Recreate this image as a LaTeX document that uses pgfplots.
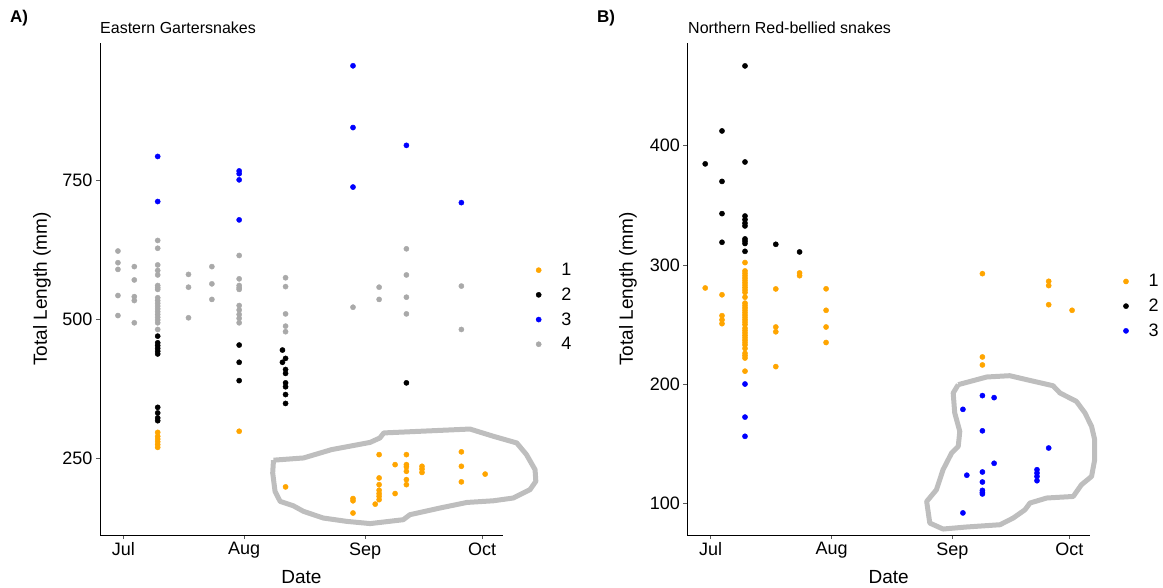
\documentclass[border=0pt]{standalone}
\usepackage{pgfplots}
\pgfplotsset{compat=1.18}
\usepackage{fontspec}
\setmainfont{Liberation Sans}
\definecolor{cOr}{HTML}{FFA500}
\definecolor{cBl}{HTML}{0000FF}
\definecolor{cGr}{HTML}{A9A9A9}
\definecolor{cHull}{HTML}{BEBEBE}
\begin{document}
\begin{tikzpicture}
\useasboundingbox (0,0) rectangle (1163bp,588bp);
\pgfplotsset{
 snake/.style={
  scale only axis, width=402.7bp, height=492bp,
  axis lines*=left, axis line style={-, black, line width=0.8bp},
  enlargelimits=false,
  xmin=-6, xmax=97.3,
  xtick={0,31,62,92}, xticklabels={Jul,Aug,Sep,Oct},
  tick align=outside, major tick length=4bp,
  tick style={color=black!65, line width=0.8bp},
  ticklabel style={font=\fontsize{18bp}{20bp}\selectfont},
  /pgf/number format/assume math mode=true,
  clip=false,
  legend cell align=left,
  legend style={draw=none, fill=none, font=\fontsize{18bp}{20bp}\selectfont, anchor=west,
    row sep=6.7bp, /tikz/every odd column/.append style={column sep=18bp}},
 },
 pt/.style={only marks, mark=*, mark size=2.6bp},
 hull/.style={forget plot, no marks, line width=5bp, color=cHull, line join=round},
}
% ---------------- Panel A ----------------
\begin{axis}[snake, at={(100bp,53bp)}, anchor=south west,
  ymin=112.5, ymax=997, ytick={250,500,750},
  legend style={at={(1.075,0.463)}}]
\addplot[hull] coordinates {(38.5,247)(46.2,251)(53.4,266)(63.3,279)(65.8,287)(66.8,296)(88.9,303)(94.9,290)(100.9,278)(103.4,257)(105.6,230)(105.8,209)(104.3,194)(100,179)(94.9,174)(88.1,171)(81.2,161)(73.5,149)(71.8,140)(63.3,133)(57.3,137)(51.3,143)(46.2,155)(43.6,165)(40.2,173)(38.9,191)(38.3,224)(38.5,247)};
\addplot[pt, color=cOr] coordinates {
(8.8,297)(8.8,290)(8.8,285)(8.8,280)(8.8,275)(8.8,270)
(29.7,299)(41.6,199)
(58.9,178)(58.9,174)(58.9,152)(64.6,168)
(65.6,257)(65.6,215)(65.6,203)(65.6,193)(65.6,187)(65.6,182)(65.6,176)
(69.7,239)(69.7,187)
(72.6,257)(72.6,239)(72.6,235)(72.6,227)(72.6,212)(72.6,203)
(76.6,236)(76.6,231)(76.6,225)
(86.7,262)(86.7,236)(86.7,208)(92.8,222)};
\addlegendentry{1}
\addplot[pt, color=black] coordinates {
(8.8,470)(8.8,458)(8.8,453)(8.8,448)(8.8,443)(8.8,438)
(8.8,342)(8.8,332)(8.8,323)(8.8,318)
(29.7,454)(29.7,423)(29.7,390)
(40.8,445)(40.8,423)(41.6,430)(41.6,410)(41.6,403)(41.6,386)(41.6,379)(41.6,365)(41.6,349)
(72.6,386)};
\addlegendentry{2}
\addplot[pt, color=cBl] coordinates {
(8.8,793)(8.8,712)
(29.7,767)(29.7,762)(29.7,751)(29.7,679)
(58.9,956)(58.9,845)(58.9,738)
(72.6,813)(86.7,710)};
\addlegendentry{3}
\addplot[pt, color=cGr] coordinates {
(-1.4,623)(-1.4,602)(-1.4,590)(-1.4,543)(-1.4,507)
(2.8,595)(2.8,571)(2.8,541)(2.8,534)(2.8,494)
(8.8,642)(8.8,628)(8.8,598)(8.8,588)(8.8,580)(8.8,561)(8.8,557)(8.8,554)(8.8,539)(8.8,534)(8.8,529)(8.8,524)(8.8,519)(8.8,514)(8.8,509)(8.8,504)(8.8,499)(8.8,494)(8.8,482)
(16.7,581)(16.7,558)(16.7,503)
(22.7,595)(22.7,564)(22.7,536)
(29.7,615)(29.7,573)(29.7,561)(29.7,557)(29.7,554)(29.7,525)(29.7,517)(29.7,509)(29.7,502)(29.7,494)
(41.6,575)(41.6,559)(41.6,510)(41.6,488)(41.6,478)
(58.9,522)
(65.6,558)(65.6,536)
(72.6,627)(72.6,580)(72.6,540)(72.6,510)
(86.7,560)(86.7,482)};
\addlegendentry{4}
\end{axis}
% ---------------- Panel B ----------------
\begin{axis}[snake, at={(687.3bp,53bp)}, anchor=south west,
  ymin=73.7, ymax=486, ytick={100,200,300,400},
  legend style={at={(1.075,0.465)}}]
\addplot[hull] coordinates {(63.5,199.7)(70.8,206.1)(76.7,207.2)(81.0,203.9)(87.8,198.8)(89.6,192.7)(93.8,185.7)(96.0,176)(97.7,164.7)(98.5,153.6)(98.5,136.8)(97.7,122.8)(95.1,115.8)(93.0,106)(86.2,104.7)(81.9,100.5)(80.6,94.8)(77.6,87.9)(74.2,82.3)(65.6,80.4)(59.6,78.7)(56.2,83.7)(55.4,101.8)(57.9,111.6)(59.6,128.4)(61.8,142.4)(63.5,148)(63.9,160.5)(62.6,176)(62.2,192.7)(63.5,199.7)};
\addplot[pt, color=cOr] coordinates {
(-1.4,280.7)
(2.9,275)(2.9,257.5)(2.9,254)(2.9,250.8)
(8.8,302)(8.8,295)(8.8,293)(8.8,291)(8.8,289)(8.8,287)(8.8,285)(8.8,283)(8.8,281)(8.8,279)(8.8,277)(8.8,273)(8.8,268)(8.8,266)(8.8,264)(8.8,262)(8.8,260)(8.8,258)(8.8,256)(8.8,254)(8.8,252)(8.8,250)(8.8,247)(8.8,245)(8.8,243)(8.8,241)(8.8,239)(8.8,237)(8.8,235)(8.8,233)(8.8,230)(8.8,226)(8.8,224)(8.8,222)(8.8,211)
(16.7,279.9)(16.7,248)(16.7,244)(16.7,214.8)
(22.8,293.3)(22.8,291)
(29.6,280)(29.6,262)(29.6,248)(29.6,235)
(69.7,292.7)(69.7,222.9)(69.7,216.2)
(86.7,286.3)(86.7,282.7)(86.7,266.7)
(92.7,262)};
\addlegendentry{1}
\addplot[pt, color=black] coordinates {
(-1.4,384.7)
(2.9,412.3)(2.9,370)(2.9,343)(2.9,319)
(8.8,466.8)(8.8,386.3)(8.8,341)(8.8,338)(8.8,335)(8.8,332.7)(8.8,321.8)(8.8,320)(8.8,318)(8.8,311.4)
(16.7,317.3)(22.8,310.9)};
\addlegendentry{2}
\addplot[pt, color=cBl] coordinates {
(8.8,200.2)(8.8,172.5)(8.8,156.4)
(64.7,179)(64.7,92.2)(65.7,123.8)
(69.7,190.5)(69.7,161)(69.7,126.5)(69.7,118.1)(69.7,111.1)(69.7,109.4)(69.7,108.1)
(72.7,188.8)(72.7,133.8)
(83.7,128.4)(83.7,125.6)(83.7,122.8)(83.7,119.2)
(86.7,146.6)};
\addlegendentry{3}
\end{axis}
% ---------------- Titles and labels ----------------
\node[font=\fontsize{17bp}{20bp}\selectfont\bfseries] at (19bp,570bp) {A)};
\node[font=\fontsize{17bp}{20bp}\selectfont\bfseries] at (606bp,570bp) {B)};
\node[anchor=west, inner sep=0pt, font=\fontsize{16bp}{18bp}\selectfont] at (100bp,560bp) {Eastern Gartersnakes};
\node[anchor=west, inner sep=0pt, font=\fontsize{16bp}{18bp}\selectfont] at (688bp,560bp) {Northern Red-bellied snakes};
\node[rotate=90, font=\fontsize{19bp}{22bp}\selectfont] at (42bp,299bp) {Total Length (mm)};
\node[rotate=90, font=\fontsize{19bp}{22bp}\selectfont] at (628bp,299bp) {Total Length (mm)};
\node[font=\fontsize{19bp}{22bp}\selectfont] at (301.4bp,11bp) {Date};
\node[font=\fontsize{19bp}{22bp}\selectfont] at (888.7bp,11bp) {Date};
\end{tikzpicture}
\end{document}
